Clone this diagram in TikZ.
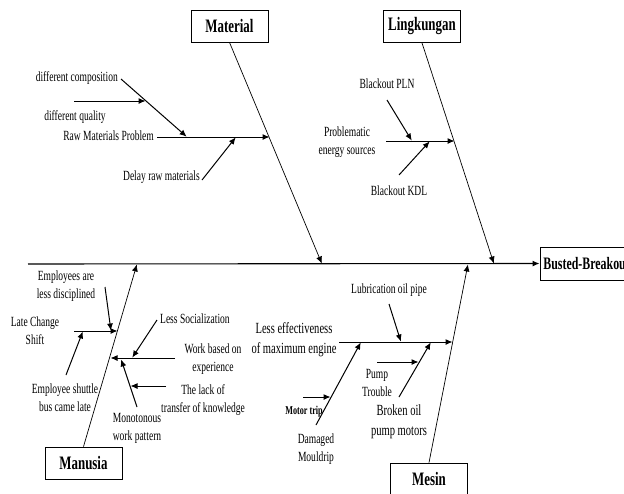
\documentclass[tikz,border=0pt]{standalone}
\usepackage{fontspec}
\setmainfont{Liberation Serif}[FakeStretch=0.68]
\usetikzlibrary{arrows.meta}

\tikzset{
  cause/.style={draw, line width=0.8pt, font=\fontsize{19}{22}\selectfont\bfseries,
    minimum width=77pt, minimum height=32pt, inner sep=0pt},
  lbl/.style={font=\fontsize{14}{18}\selectfont, align=center, inner sep=0pt},
  biglbl/.style={font=\fontsize{15.5}{20}\selectfont, align=center, inner sep=0pt},
  bone/.style={->, line width=0.7pt},
  twig/.style={->, line width=1pt}
}

\begin{document}
\begin{tikzpicture}[x=1pt,y=-1pt,>={Latex[length=7pt,width=6pt]},shorten >=0.5pt]
      \useasboundingbox (0,0) rectangle (624,493);

      % effect and spine
      \node[draw, line width=0.8pt, anchor=west, minimum height=33pt, inner xsep=3pt,
        font=\fontsize{17.5}{20}\selectfont\bfseries] (effect) at (540,263.5) {Busted-Breakout};
      \coordinate (spine) at (28,264);
      \draw[->, line width=1.1pt] (spine) -- (effect.west);

      % main causes
      \node[cause] (mat) at (229.5,26) {Material};
      \node[cause] (env) at (422,26.5) {Lingkungan};
      \node[cause] (man) at (83.5,463) {Manusia};
      \node[cause] (mes) at (429,479) {Mesin};

      \coordinate (matEnd) at (322,264);
      \coordinate (envEnd) at (494,264);
      \coordinate (manEnd) at (137,264);
      \coordinate (mesEnd) at (468,264);

      \draw[bone] (mat.south) -- (matEnd);
      \draw[bone] (env.south) -- (envEnd);
      \draw[bone] (man.north) -- (manEnd);
      \draw[bone] (mes.north) -- (mesEnd);

      % Material
      \node[lbl, anchor=east] (raw) at (154,136) {Raw Materials Problem};
      \node[lbl, anchor=east] (comp) at (118,78) {different composition};
      \node[lbl] (qual) at (75,117) {different quality};
      \node[lbl, anchor=east] (delay) at (200,177) {Delay raw materials};
      \coordinate (rawL) at (157,137);   \coordinate (rawTip) at (270,137);
      \coordinate (compL) at (121,79);   \coordinate (compTip) at (187,137);
      \coordinate (qualL) at (74,101);   \coordinate (qualTip) at (146,101);
      \coordinate (delayL) at (202,180); \coordinate (delayTip) at (236,137);
      \draw[twig] (rawL) -- (rawTip);
      \draw[twig] (compL) -- (compTip);
      \draw[twig] (qualL) -- (qualTip);
      \draw[twig] (delayL) -- (delayTip);

      % Lingkungan
      \node[lbl] (energy) at (347,142) {Problematic\\energy sources};
      \node[lbl] (pln) at (387,84) {Blackout PLN};
      \node[lbl] (kdl) at (399,191) {Blackout KDL};
      \coordinate (energyL) at (386,141); \coordinate (energyTip) at (455,141);
      \coordinate (plnL) at (387,100);    \coordinate (plnTip) at (412,141);
      \coordinate (kdlL) at (399,175);    \coordinate (kdlTip) at (430,141);
      \draw[twig] (energyL) -- (energyTip);
      \draw[twig] (plnL) -- (plnTip);
      \draw[twig] (kdlL) -- (kdlTip);

      % Manusia
      \node[lbl] (disc) at (66,286) {Employees are\\less disciplined};
      \node[lbl] (shift) at (35,331) {Late Change\\Shift};
      \node[lbl] (bus) at (65,398) {Employee shuttle\\bus came late};
      \node[lbl] (exp) at (213,359) {Work based on\\experience};
      \node[lbl, anchor=west] (soc) at (160,319) {Less Socialization};
      \node[lbl] (mono) at (137,428) {Monotonous\\work pattern};
      \node[lbl] (lack) at (203,400) {The lack of\\transfer of knowledge};
      \coordinate (discL) at (105,287);  \coordinate (discTip) at (111,331);
      \coordinate (shiftL) at (74,331);  \coordinate (shiftTip) at (118,331);
      \coordinate (busL) at (66,375);    \coordinate (busTip) at (83,331);
      \coordinate (expL) at (175,358);   \coordinate (expTip) at (110,358);
      \coordinate (socL) at (157,320);   \coordinate (socTip) at (132,358);
      \coordinate (monoL) at (137,407);  \coordinate (monoTip) at (121,359);
      \coordinate (lackL) at (166,386);  \coordinate (lackTip) at (130,386);
      \draw[twig] (discL) -- (discTip);
      \draw[twig] (shiftL) -- (shiftTip);
      \draw[twig] (busL) -- (busTip);
      \draw[twig] (expL) -- (expTip);
      \draw[twig] (socL) -- (socTip);
      \draw[twig] (monoL) -- (monoTip);
      \draw[twig] (lackL) -- (lackTip);

      % Mesin
      \node[biglbl] (eng) at (294,340) {Less effectiveness\\of maximum engine};
      \node[lbl] (lub) at (389,290) {Lubrication oil pipe};
      \node[lbl] (mould) at (316,449) {Damaged\\Mouldrip};
      \node[lbl, font=\fontsize{12}{14}\selectfont\bfseries] (motor) at (304,412) {Motor trip};
      \node[biglbl] (broken) at (399,422) {Broken oil\\pump motors};
      \node[lbl] (pump) at (377,383) {Pump\\Trouble};
      \coordinate (engL) at (339,342);    \coordinate (engTip) at (453,342);
      \coordinate (lubL) at (389,304);    \coordinate (lubTip) at (401,342);
      \coordinate (mouldL) at (316,425);  \coordinate (mouldTip) at (361,342);
      \coordinate (motorL) at (303,397);  \coordinate (motorTip) at (331,397);
      \coordinate (brokenL) at (399,397); \coordinate (brokenTip) at (431,342);
      \coordinate (pumpL) at (377,362);   \coordinate (pumpTip) at (419,362);
      \draw[twig] (engL) -- (engTip);
      \draw[twig] (lubL) -- (lubTip);
      \draw[twig] (mouldL) -- (mouldTip);
      \draw[twig] (motorL) -- (motorTip);
      \draw[twig] (brokenL) -- (brokenTip);
      \draw[twig] (pumpL) -- (pumpTip);
    \end{tikzpicture}
\end{document}
